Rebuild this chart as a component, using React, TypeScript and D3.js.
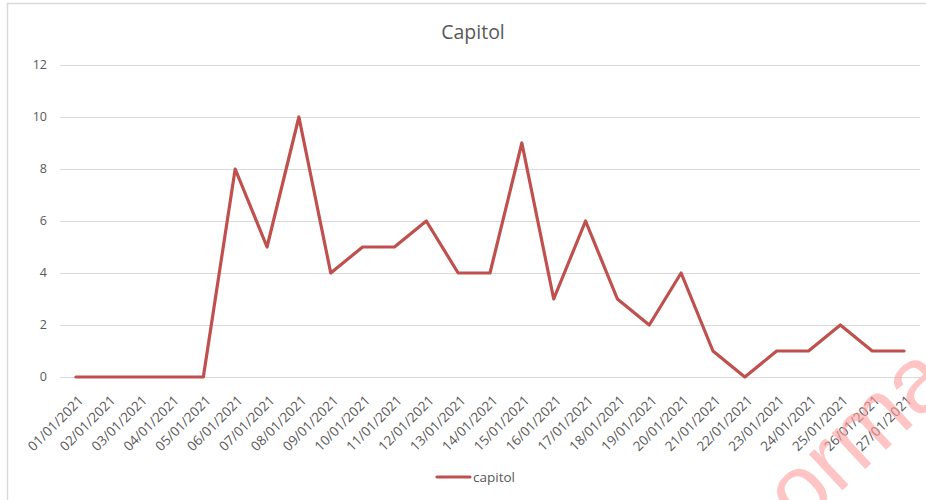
import React, { useEffect, useRef } from 'react'
import * as d3 from 'd3'

const dates = [
    "01/01/2021", "02/01/2021", "03/01/2021", "04/01/2021", "05/01/2021",
    "06/01/2021", "07/01/2021", "08/01/2021", "09/01/2021", "10/01/2021",
    "11/01/2021", "12/01/2021", "13/01/2021", "14/01/2021", "15/01/2021",
    "16/01/2021", "17/01/2021", "18/01/2021", "19/01/2021", "20/01/2021",
    "21/01/2021", "22/01/2021", "23/01/2021", "24/01/2021", "25/01/2021",
    "26/01/2021", "27/01/2021"
]
const capitol = [0, 0, 0, 0, 0, 8, 5, 10, 4, 5, 5, 6, 4, 4, 9, 3, 6, 3, 2, 4, 1, 0, 1, 1, 2, 1, 1]
const yTicks = [0, 2, 4, 6, 8, 10, 12]

const W = 926
const H = 500
const FONT = "'Open Sans', 'Liberation Sans', sans-serif"
const TEXT = "#595959"
const RED = "#c0504d"

const App = () => {
    const svgRef = useRef<SVGSVGElement>(null)

    useEffect(() => {
        const svg: any = d3.select(svgRef.current)
        svg.selectAll("*").remove()

        const x = d3.scaleBand<string>().domain(dates).range([60, 920])
        const y = d3.scaleLinear().domain([0, 12]).range([377, 65])
        const cx = (d: string) => (x(d) as number) + x.bandwidth() / 2

        // chart frame
        svg.append("path")
            .attr("d", `M7.5,${H} V3.5 H${W}`)
            .attr("fill", "none")
            .attr("stroke", "#d9d9d9")
            .attr("stroke-width", 1.5)

        // gridlines + y labels
        const g = svg.append("g")
        g.selectAll(".grid")
            .data(yTicks)
            .join("line")
            .attr("x1", 60).attr("x2", 920)
            .attr("y1", (d: number) => Math.round(y(d)) + 0.5)
            .attr("y2", (d: number) => Math.round(y(d)) + 0.5)
            .attr("stroke", "#d9d9d9")
            .attr("stroke-width", 1.2)
        g.selectAll(".ylab")
            .data(yTicks)
            .join("text")
            .attr("x", 47)
            .attr("y", (d: number) => y(d))
            .attr("dy", "0.35em")
            .attr("text-anchor", "end")
            .attr("font-family", FONT)
            .attr("font-size", 12.5)
            .attr("fill", TEXT)
            .text((d: number) => d)

        // x labels
        g.selectAll(".xlab")
            .data(dates)
            .join("text")
            .attr("transform", (d: string) => `translate(${cx(d) + 5},${398}) rotate(-45)`)
            .attr("text-anchor", "end")
            .attr("dy", "0.35em")
            .attr("font-family", FONT)
            .attr("font-size", 13.5)
            .attr("fill", TEXT)
            .text((d: string) => d)

        // series line
        const line = d3.line<number>()
            .x((_, i) => cx(dates[i]))
            .y((v) => y(v))
        g.append("path")
            .datum(capitol)
            .attr("d", line)
            .attr("fill", "none")
            .attr("stroke", RED)
            .attr("stroke-width", 3.2)
            .attr("stroke-linejoin", "round")
            .attr("stroke-linecap", "round")

        // title
        svg.append("text")
            .attr("x", 473)
            .attr("y", 32)
            .attr("dy", "0.35em")
            .attr("text-anchor", "middle")
            .attr("font-family", FONT)
            .attr("font-size", 19.5)
            .attr("fill", TEXT)
            .text("Capitol")

        // legend
        svg.append("line")
            .attr("x1", 437).attr("x2", 470)
            .attr("y1", 477).attr("y2", 477)
            .attr("stroke", RED)
            .attr("stroke-width", 3.2)
            .attr("stroke-linecap", "round")
        svg.append("text")
            .attr("x", 473)
            .attr("y", 477)
            .attr("dy", "0.35em")
            .attr("font-family", FONT)
            .attr("font-size", 13.5)
            .attr("fill", TEXT)
            .text("capitol")

        // watermark (mostly outside the frame, only "orma" shows)
        const wm = svg.append("g")
            .attr("transform", "translate(800,530) rotate(-43)")
            .attr("font-family", "'Liberation Sans', sans-serif")
            .attr("font-size", 93)
            .attr("fill", "#ff9c9c")
            .attr("fill-opacity", 0.6)
        wm.append("text").attr("text-anchor", "end").text("n")
        wm.append("text").attr("text-anchor", "start").text("orma")
    })

    return (
        <svg ref={svgRef} width={W} height={H} style={{ position: "absolute", left: 0, top: 0, background: "#fff" }}></svg>
    )
}

export default App
